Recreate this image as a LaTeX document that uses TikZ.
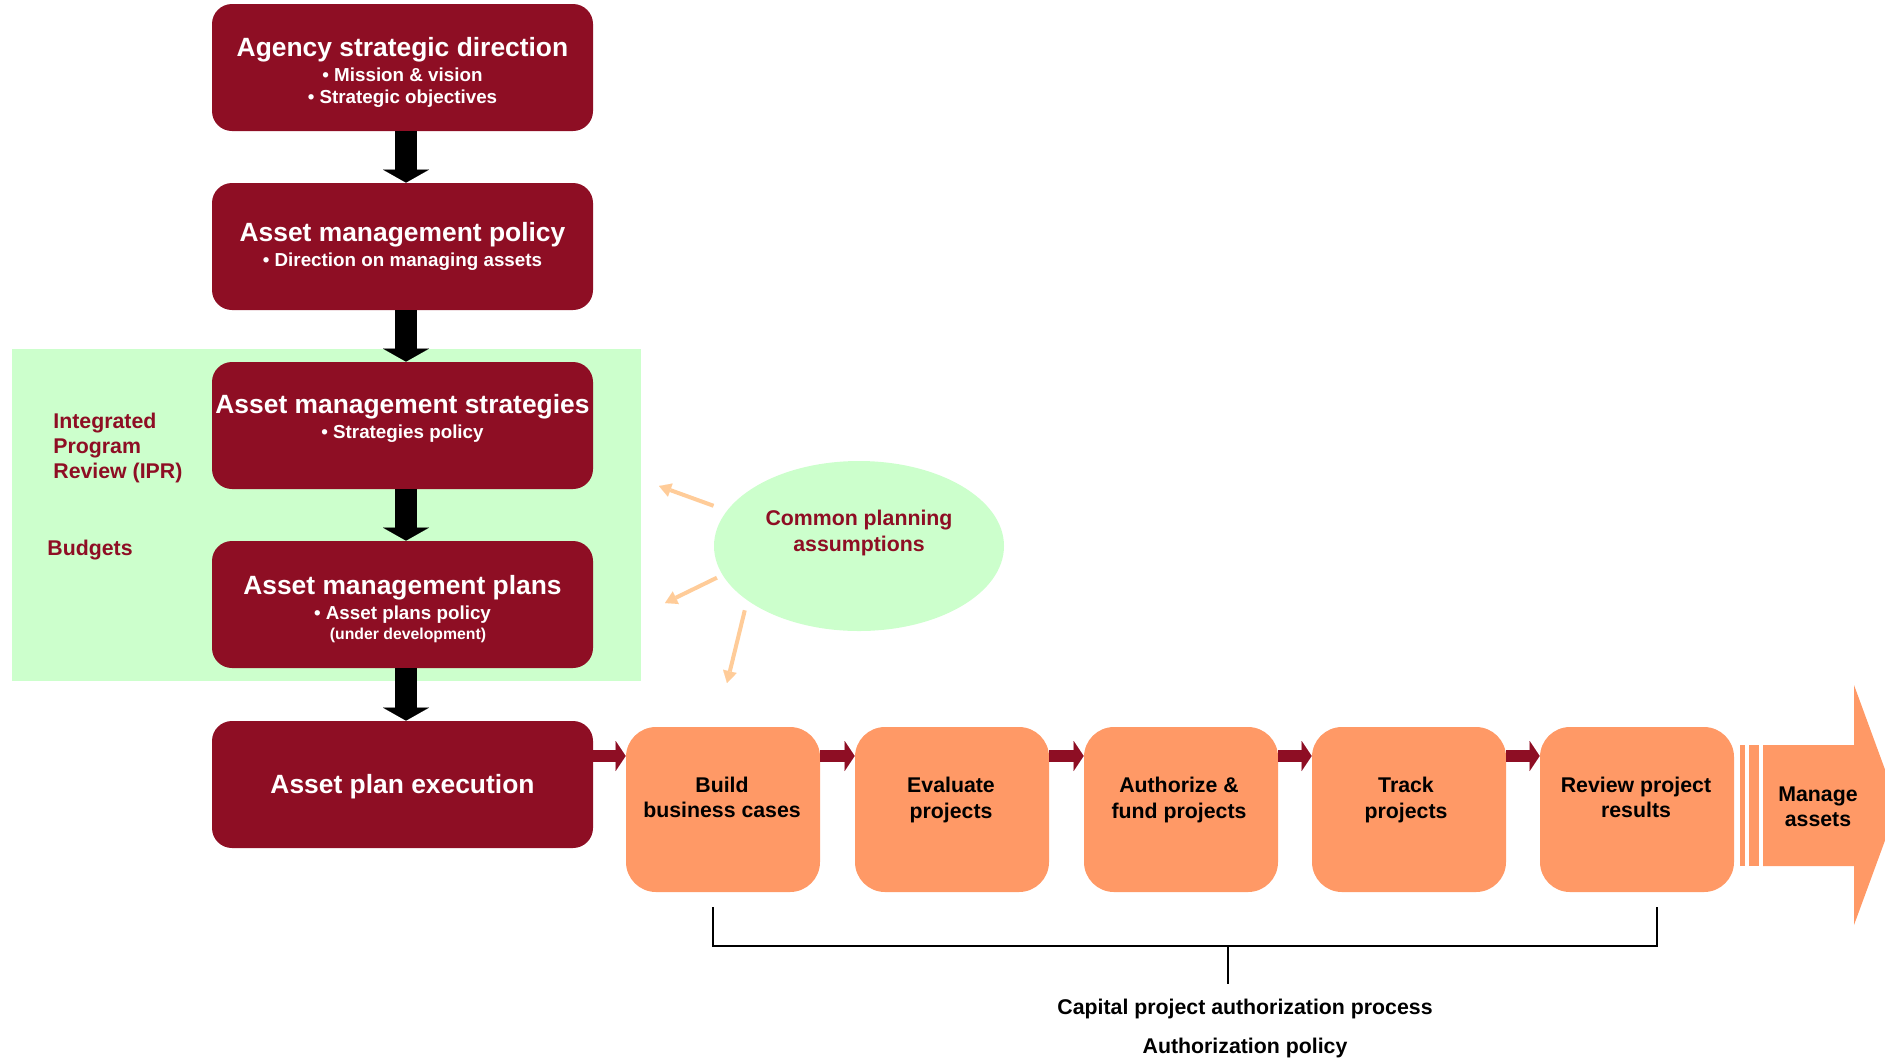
\documentclass[tikz,border=0pt]{standalone}
\usepackage{fontspec}
\setmainfont{Liberation Sans}
\usetikzlibrary{arrows.meta,shapes.geometric,calc}
\definecolor{amaroon}{HTML}{8E0E24}
\definecolor{apeach}{HTML}{FF9966}
\definecolor{agreen}{HTML}{CCFFCC}
\definecolor{alight}{HTML}{FFCC99}
\begin{document}
\begin{tikzpicture}[x=0.5pt,y=-0.5pt,
  mbox/.style={fill=amaroon, rounded corners=10pt, minimum width=190.5pt, minimum height=63.5pt, inner sep=0pt},
  obox/.style={fill=apeach, rounded corners=15pt, minimum width=97pt, minimum height=82.5pt, inner sep=0pt},
  wtitle/.style={text=white, font=\fontsize{13.2pt}{15pt}\selectfont\bfseries, inner sep=0pt, text height=9.5pt, text depth=2.7pt},
  wbul/.style={text=white, font=\fontsize{9.4pt}{11pt}\selectfont\bfseries, inner sep=0pt, text height=6.8pt, text depth=1.9pt},
  wsmall/.style={text=white, font=\fontsize{7.9pt}{9pt}\selectfont\bfseries, inner sep=0pt, text height=5.7pt, text depth=1.6pt},
  btext/.style={font=\fontsize{10.65pt}{12.6pt}\selectfont\bfseries, align=center, inner sep=0pt},
  rtext/.style={btext, text=amaroon},
  bigarrow/.style={line width=11pt, -{Triangle[length=6.5pt,width=23pt,line width=0.01pt]}},
  smallarrow/.style={amaroon, line width=6pt, -{Triangle[length=5pt,width=15pt,line width=0.01pt]}},
  peacharrow/.style={alight, line width=2pt, -{Triangle[length=6pt,width=7pt,line width=0.01pt]}}
]
\useasboundingbox (0,0) rectangle (1885,1057);

% green planning area
\fill[agreen] (12,349) rectangle (641,681);

% maroon boxes
\node[mbox] (b1) at (402.5,67.5) {};
\node[mbox] (b2) at (402.5,246.5) {};
\node[mbox] (b3) at (402.5,425.5) {};
\node[mbox] (b4) at (402.5,604.5) {};
\node[mbox] (b5) at (402.5,784.5) {};

\node[wtitle] (t1) at (402.5,50) {Agency strategic direction};
\node[wbul] (t1a) at (402.5,76.5) {• Mission \& vision};
\node[wbul] (t1b) at (402.5,98.5) {• Strategic objectives};
\node[wtitle] (t2) at (402.5,235) {Asset management policy};
\node[wbul] (t2a) at (402.5,261.5) {• Direction on managing assets};
\node[wtitle] (t3) at (402.5,407) {Asset management strategies};
\node[wbul] (t3a) at (402.5,433.5) {• Strategies policy};
\node[wtitle] (t4) at (402.5,588) {Asset management plans};
\node[wbul] (t4a) at (402.5,614.5) {• Asset plans policy};
\node[wsmall] (t4b) at (408,635) {(under development)};
\node[wtitle] (t5) at (402.5,787) {Asset plan execution};

% black arrows
\draw[bigarrow] ([xshift=1.75pt]b1.south) -- ([xshift=1.75pt]b2.north);
\draw[bigarrow] ([xshift=1.75pt]b2.south) -- ([xshift=1.75pt]b3.north);
\draw[bigarrow] ([xshift=1.75pt]b3.south) -- ([xshift=1.75pt]b4.north);
\draw[bigarrow] ([xshift=1.75pt]b4.south) -- ([xshift=1.75pt]b5.north);

% left labels
\node[rtext, align=left, anchor=west] (ipr) at (53,448) {Integrated\\Program\\Review (IPR)};
\node[rtext, anchor=west] (bud) at (47,550.5) {Budgets};

% common planning assumptions
\node[ellipse, fill=agreen, minimum width=145pt, minimum height=85pt, inner sep=0pt] (cpa) at (859,546) {};
\node[rtext] (cpt) at (859,533) {Common planning\\assumptions};
\coordinate (p1) at (659,486);
\coordinate (p2) at (665,603);
\coordinate (p3) at (727,683);
\draw[peacharrow, shorten <=7pt] (cpa.165) -- (p1);
\draw[peacharrow, shorten <=3pt] (cpa.192) -- (p2);
\draw[peacharrow, shorten <=5pt] (cpa.206) -- (p3);

% orange process boxes
\node[obox] (o1) at (723,809.5) {};
\node[obox] (o2) at (952,809.5) {};
\node[obox] (o3) at (1181,809.5) {};
\node[obox] (o4) at (1409,809.5) {};
\node[obox] (o5) at (1637,809.5) {};
\node[btext] (ot1) at (722,797.5) {Build\\business cases};
\node[btext] (ot2) at (951,800) {Evaluate\\projects};
\node[btext] (ot3) at (1179,800) {Authorize \&\\fund projects};
\node[btext] (ot4) at (1406,800) {Track\\projects};
\node[btext] (ot5) at (1636,797) {Review project\\results};

% small maroon arrows
\coordinate (ay) at (0,756);
\draw[smallarrow] (b5.east |- ay) -- (o1.west |- ay);
\draw[smallarrow] (o1.east |- ay) -- (o2.west |- ay);
\draw[smallarrow] (o2.east |- ay) -- (o3.west |- ay);
\draw[smallarrow] (o3.east |- ay) -- (o4.west |- ay);
\draw[smallarrow] (o4.east |- ay) -- (o5.west |- ay);

% manage assets arrow
\fill[apeach] (1740,745) rectangle (1745,866);
\fill[apeach] (1749,745) rectangle (1759,866);
\fill[apeach] (1763,745) -- (1854,745) -- (1854,685) -- (1898,805) -- (1854,925) -- (1854,866) -- (1763,866) -- cycle;
\node[btext] (ma) at (1818,807) {Manage\\assets};

% bracket
\draw[line width=1pt] (713,907) -- (713,946) -- (1657,946) -- (1657,907);
\draw[line width=1pt] (1228,946) -- (1228,984);
\node[btext] (cap) at (1245,1009) {Capital project authorization process};
\node[btext] (auth) at (1245,1048) {Authorization policy};
\end{tikzpicture}
\end{document}
